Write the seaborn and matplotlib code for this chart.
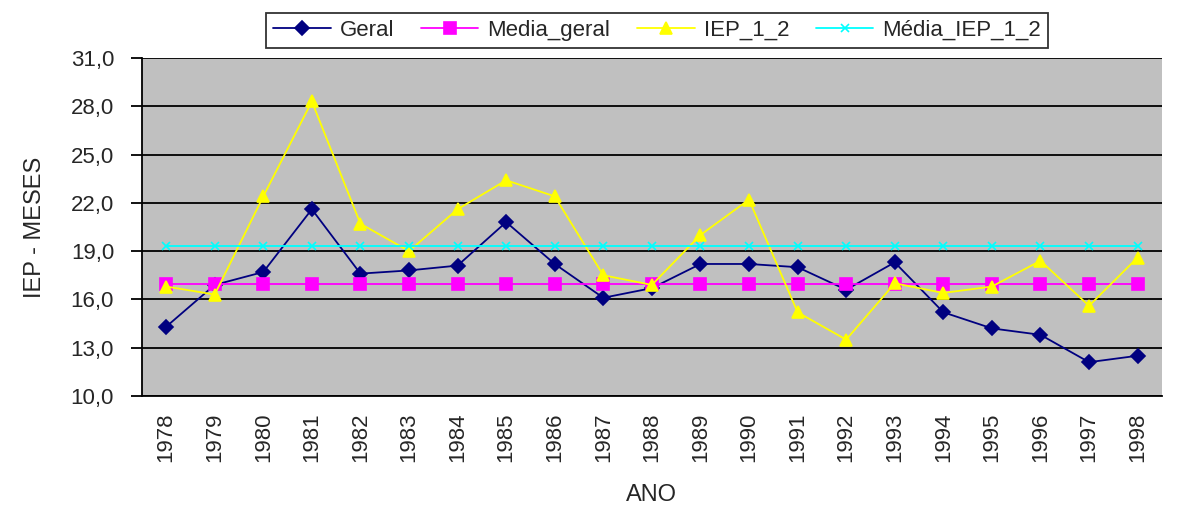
import numpy as np
import pandas as pd
import seaborn as sns
import matplotlib.pyplot as plt
from matplotlib.ticker import FixedLocator

anos = [str(a) for a in range(1978, 1999)]
geral = [14.3, 16.9, 17.7, 21.6, 17.6, 17.8, 18.1, 20.8, 18.2, 16.1, 16.7,
         18.2, 18.2, 18.0, 16.6, 18.3, 15.2, 14.2, 13.8, 12.1, 12.5]
media_geral = [16.95] * 21
iep_1_2 = [16.8, 16.3, 22.4, 28.3, 20.7, 19.0, 21.6, 23.4, 22.4, 17.5, 16.9,
           20.0, 22.2, 15.2, 13.5, 17.0, 16.4, 16.8, 18.4, 15.6, 18.6]
media_iep_1_2 = [19.3] * 21

sns.set_style("white")
plt.rcParams['font.family'] = ['Liberation Sans', 'DejaVu Sans']

fig = plt.figure(figsize=(11.82, 5.08), dpi=100)
ax = fig.add_axes([0.120, 0.2205, 0.863, 0.6655])
ax.set_facecolor('#C0C0C0')

pos = np.arange(len(anos))
series = [
    ('Geral', geral, '#000080', 'D', 7),
    ('Media_geral', media_geral, '#FF00FF', 's', 8),
    ('IEP_1_2', iep_1_2, '#FFFF00', '^', 9),
    ('Média_IEP_1_2', media_iep_1_2, '#00FFFF', 'x', 6),
]
for nome, vals, cor, mk, ms in series:
    df = pd.DataFrame({'ano': pos, 'valor': vals})
    sns.lineplot(data=df, x='ano', y='valor', ax=ax, color=cor, marker=mk,
                 markersize=ms, markeredgecolor=cor, markeredgewidth=1.2,
                 linewidth=1.3, label=nome)

ax.set_xlim(-0.5, len(anos) - 0.5)
ax.set_ylim(10, 31)
yt = np.arange(10, 31.1, 3)
ax.set_yticks(yt)
ax.set_yticklabels([f"{v:.1f}".replace('.', ',') for v in yt], fontsize=16)
ax.yaxis.grid(True, color='black', linewidth=1.3)
ax.set_axisbelow(True)

ax.set_xticks(pos)
ax.set_xticklabels(anos, rotation=90, fontsize=16)
ax.tick_params(axis='x', which='major', length=0, pad=12)
ax.xaxis.set_minor_locator(FixedLocator(np.arange(-0.5, len(anos), 1)))
ax.tick_params(axis='x', which='minor', length=7, width=1.3, color='black', direction='out')
ax.tick_params(axis='y', length=8, width=1.3, color='black', direction='out',
               left=True, pad=12)

for s in ['top', 'right']:
    ax.spines[s].set_visible(False)
for s in ['left', 'bottom']:
    ax.spines[s].set_color('black')
    ax.spines[s].set_linewidth(1.3)

ax.set_xlabel('ANO', fontsize=17, labelpad=16)
ax.set_ylabel('IEP - MESES', fontsize=17, labelpad=18)

leg = ax.legend(loc='lower center', bbox_to_anchor=(0.505, 1.03), ncol=4,
                fontsize=16, frameon=True, fancybox=False, borderpad=0.3,
                handlelength=2.6, handletextpad=0.4, columnspacing=1.2,
                borderaxespad=0)
leg.get_frame().set_edgecolor('black')
leg.get_frame().set_linewidth(1.3)

fig.savefig('out.png', dpi=100)
